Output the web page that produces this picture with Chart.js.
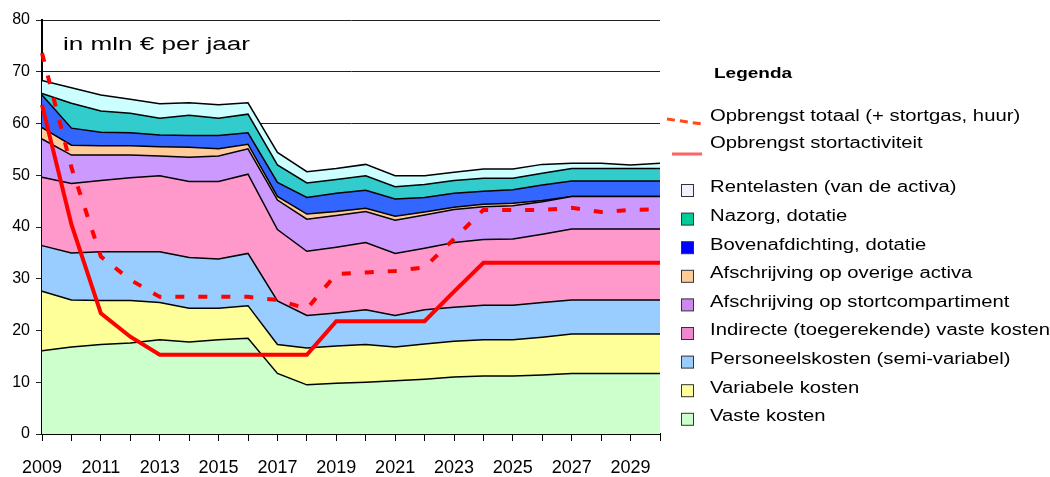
<!DOCTYPE html>
<html>
<head>
<meta charset="utf-8">
<script src="https://cdn.jsdelivr.net/npm/chart.js@4.4.1/dist/chart.umd.min.js"></script>
<style>
body { margin: 0; background: #fff; }
</style>
</head>
<body>
<canvas id="kosten_chart" width="1050" height="477"></canvas>
<script>
var jaren = ["2009", "2010", "2011", "2012", "2013", "2014", "2015", "2016", "2017", "2018", "2019",
             "2020", "2021", "2022", "2023", "2024", "2025", "2026", "2027", "2028", "2029", "2030"];

// kosten, van onder naar boven gestapeld (mln euro per jaar)
var vasteKosten      = [16.1, 16.8, 17.3, 17.6, 18.2, 17.8, 18.2, 18.5, 11.7, 9.5, 9.8, 10.0, 10.3, 10.6, 11.0, 11.2, 11.2, 11.4, 11.7, 11.7, 11.7, 11.7];
var variabeleKosten  = [11.5, 9.1, 8.5, 8.2, 7.2, 6.5, 6.1, 6.3, 5.6, 7.1, 7.2, 7.3, 6.5, 6.8, 6.9, 7.0, 7.0, 7.3, 7.6, 7.6, 7.6, 7.6];
var personeelskosten = [8.8, 9.1, 9.4, 9.4, 9.8, 9.8, 9.5, 10.1, 8.4, 6.3, 6.4, 6.7, 6.1, 6.6, 6.6, 6.7, 6.7, 6.7, 6.6, 6.6, 6.6, 6.6];
var indirecteKosten  = [13.2, 13.4, 13.8, 14.3, 14.7, 14.7, 15.0, 15.3, 13.8, 12.4, 12.7, 13.0, 12.0, 11.9, 12.5, 12.7, 12.8, 13.2, 13.7, 13.7, 13.7, 13.7];
var afschrStort      = [7.4, 5.5, 4.9, 4.4, 3.8, 4.7, 4.9, 4.9, 5.7, 6.2, 6.1, 6.0, 6.4, 6.4, 6.4, 6.3, 6.4, 6.3, 6.3, 6.3, 6.3, 6.3];
var afschrOverig     = [2.2, 1.9, 1.8, 1.8, 1.8, 1.9, 1.4, 0.9, 0.7, 1.0, 0.8, 0.6, 0.8, 0.6, 0.4, 0.5, 0.5, 0.2, 0, 0, 0, 0];
var bovenafdichting  = [6.3, 3.3, 2.6, 2.5, 2.3, 2.3, 2.6, 2.2, 2.7, 3.2, 3.5, 3.5, 3.3, 2.8, 2.7, 2.5, 2.6, 3.0, 3.0, 3.0, 3.0, 3.0];
var nazorg           = [0.3, 4.8, 4.1, 3.8, 3.2, 3.9, 3.3, 3.6, 3.4, 2.8, 2.7, 2.8, 2.4, 2.5, 2.5, 2.5, 2.2, 2.3, 2.4, 2.4, 2.4, 2.4];
var rentelasten      = [2.5, 3.0, 3.1, 2.7, 2.8, 2.4, 2.6, 2.2, 2.4, 2.2, 2.1, 2.2, 2.1, 1.7, 1.6, 1.8, 1.8, 1.7, 1.0, 1.0, 0.7, 1.0];

// opbrengsten
var opbrengstTotaal = [73.6, 51.5, 34.3, 29.8, 26.5, 26.5, 26.5, 26.5, 25.9, 24.2, 30.9, 31.2, 31.5, 32.2, 37.7, 43.3, 43.3, 43.3, 43.7, 42.9, 43.3, 43.4];
var opbrengstStort  = [63.6, 40.5, 23.3, 18.8, 15.3, 15.3, 15.3, 15.3, 15.3, 15.3, 21.8, 21.8, 21.8, 21.8, 27.5, 33.1, 33.1, 33.1, 33.1, 33.1, 33.1, 33.1];

var yTicks = [0, 10, 20, 30, 40, 50, 60, 70, 80];

var fontFam = '"Liberation Sans", Arial, sans-serif';
Chart.defaults.font.family = fontFam;
Chart.defaults.color = '#000';

var lagen = [
	{ label: 'Vaste kosten', data: vasteKosten, kleur: '#ccffcc', legKleur: '#ccffcc' },
	{ label: 'Variabele kosten', data: variabeleKosten, kleur: '#ffff99', legKleur: '#ffff99' },
	{ label: 'Personeelskosten (semi-variabel)', data: personeelskosten, kleur: '#99ccff', legKleur: '#99ccff' },
	{ label: 'Indirecte (toegerekende) vaste kosten', data: indirecteKosten, kleur: '#ff99cc', legKleur: '#ee88cc' },
	{ label: 'Afschrijving op stortcompartiment', data: afschrStort, kleur: '#cc99ff', legKleur: '#cc88ee' },
	{ label: 'Afschrijving op overige activa', data: afschrOverig, kleur: '#ffcc99', legKleur: '#ffcc99' },
	{ label: 'Bovenafdichting, dotatie', data: bovenafdichting, kleur: '#3366ff', legKleur: '#0000ff' },
	{ label: 'Nazorg, dotatie', data: nazorg, kleur: '#33cccc', legKleur: '#00cc99' },
	{ label: 'Rentelasten (van de activa)', data: rentelasten, kleur: '#ccffff', legKleur: '#eef2fa' }
];

var datasets = lagen.map(function(l, i) {
	return {
		label: l.label,
		data: l.data,
		backgroundColor: l.kleur,
		borderColor: '#000',
		borderWidth: 1.5,
		pointRadius: 0,
		fill: i === 0 ? 'origin' : '-1',
		stack: 'kosten',
		order: 1
	};
});

datasets.push({
	label: 'Opbrengst totaal (+ stortgas, huur)',
	data: opbrengstTotaal,
	borderColor: '#ff0000',
	borderWidth: 4,
	borderDash: [9, 14],
	pointRadius: 0,
	fill: false,
	stack: 'totaal',
	order: 0
});
datasets.push({
	label: 'Opbrengst stortactiviteit',
	data: opbrengstStort,
	borderColor: '#ff0000',
	borderWidth: 4,
	pointRadius: 0,
	fill: false,
	stack: 'stort',
	order: 0
});

// tekst breed getrokken zoals in het origineel
function brede(c, s, x, y, breedte) {
	var sx = breedte / c.measureText(s).width;
	c.save();
	c.translate(x, y);
	c.scale(sx, 1);
	c.fillText(s, 0, 0);
	c.restore();
	return sx;
}

var tekstPlugin = {
	id: 'tekst',
	afterDraw: function(chart) {
		var c = chart.ctx;
		c.save();
		c.fillStyle = '#000';
		c.textBaseline = 'middle';
		c.font = '18px ' + fontFam;
		brede(c, 'in mln \u20ac per jaar', 63, 45, 187);

		// legenda (rechts)
		c.font = '16px ' + fontFam;
		var sx = 340 / c.measureText('Indirecte (toegerekende) vaste kosten').width;
		function tekst(s, x, y) {
			c.save();
			c.translate(x, y);
			c.scale(sx, 1);
			c.fillText(s, 0, 0);
			c.restore();
		}
		c.font = 'bold 15px ' + fontFam;
		tekst('Legenda', 714, 74);
		c.font = '16px ' + fontFam;

		c.lineWidth = 3;
		c.strokeStyle = '#ff4a1a';
		c.setLineDash([8, 5]);
		c.beginPath();
		c.moveTo(667, 119);
		c.lineTo(702, 124);
		c.stroke();
		c.setLineDash([]);
		tekst(datasets[9].label, 710, 117);

		c.strokeStyle = '#ff6464';
		c.beginPath();
		c.moveTo(672, 154);
		c.lineTo(702, 154);
		c.stroke();
		tekst(datasets[10].label, 710, 144);

		c.lineWidth = 1;
		c.strokeStyle = '#333';
		for (var k = 0; k < lagen.length; k++) {
			var l = lagen[lagen.length - 1 - k];
			var y = 188 + k * 28.6;
			c.fillStyle = l.legKleur;
			c.fillRect(681.5, y - 3.5, 12, 12);
			c.strokeRect(681.5, y - 3.5, 12, 12);
			c.fillStyle = '#000';
			tekst(l.label, 710, y);
		}
		c.restore();
	}
};

var ctx = document.getElementById('kosten_chart');
var myChart = new Chart(ctx, {
	type: 'line',
	data: {
		labels: jaren,
		datasets: datasets
	},
	options: {
		responsive: false,
		animation: false,
		layout: { padding: { left: 0, top: 20, right: 390, bottom: 0 } },
		plugins: {
			legend: { display: false },
			tooltip: { enabled: false }
		},
		elements: { line: { tension: 0 } },
		scales: {
			x: {
				offset: false,
				grid: { drawOnChartArea: false, drawTicks: true, tickLength: 7, color: '#000' },
				border: { color: '#000', width: 2 },
				ticks: {
					autoSkip: false,
					maxRotation: 0,
					padding: 16,
					font: { size: 18 },
					color: '#000',
					callback: function(v, i) { return i % 2 === 0 ? jaren[i] : ''; }
				},
				afterFit: function(s) { s.height = 43; }
			},
			y: {
				stacked: true,
				min: yTicks[0],
				max: yTicks[yTicks.length - 1],
				grid: { color: '#222', lineWidth: 1, tickLength: 6 },
				border: { color: '#000', width: 2 },
				ticks: { stepSize: 10, padding: 6, font: { size: 16 }, color: '#000' },
				afterFit: function(s) { s.width = 42; }
			}
		}
	},
	plugins: [tekstPlugin]
});
</script>
</body>
</html>
